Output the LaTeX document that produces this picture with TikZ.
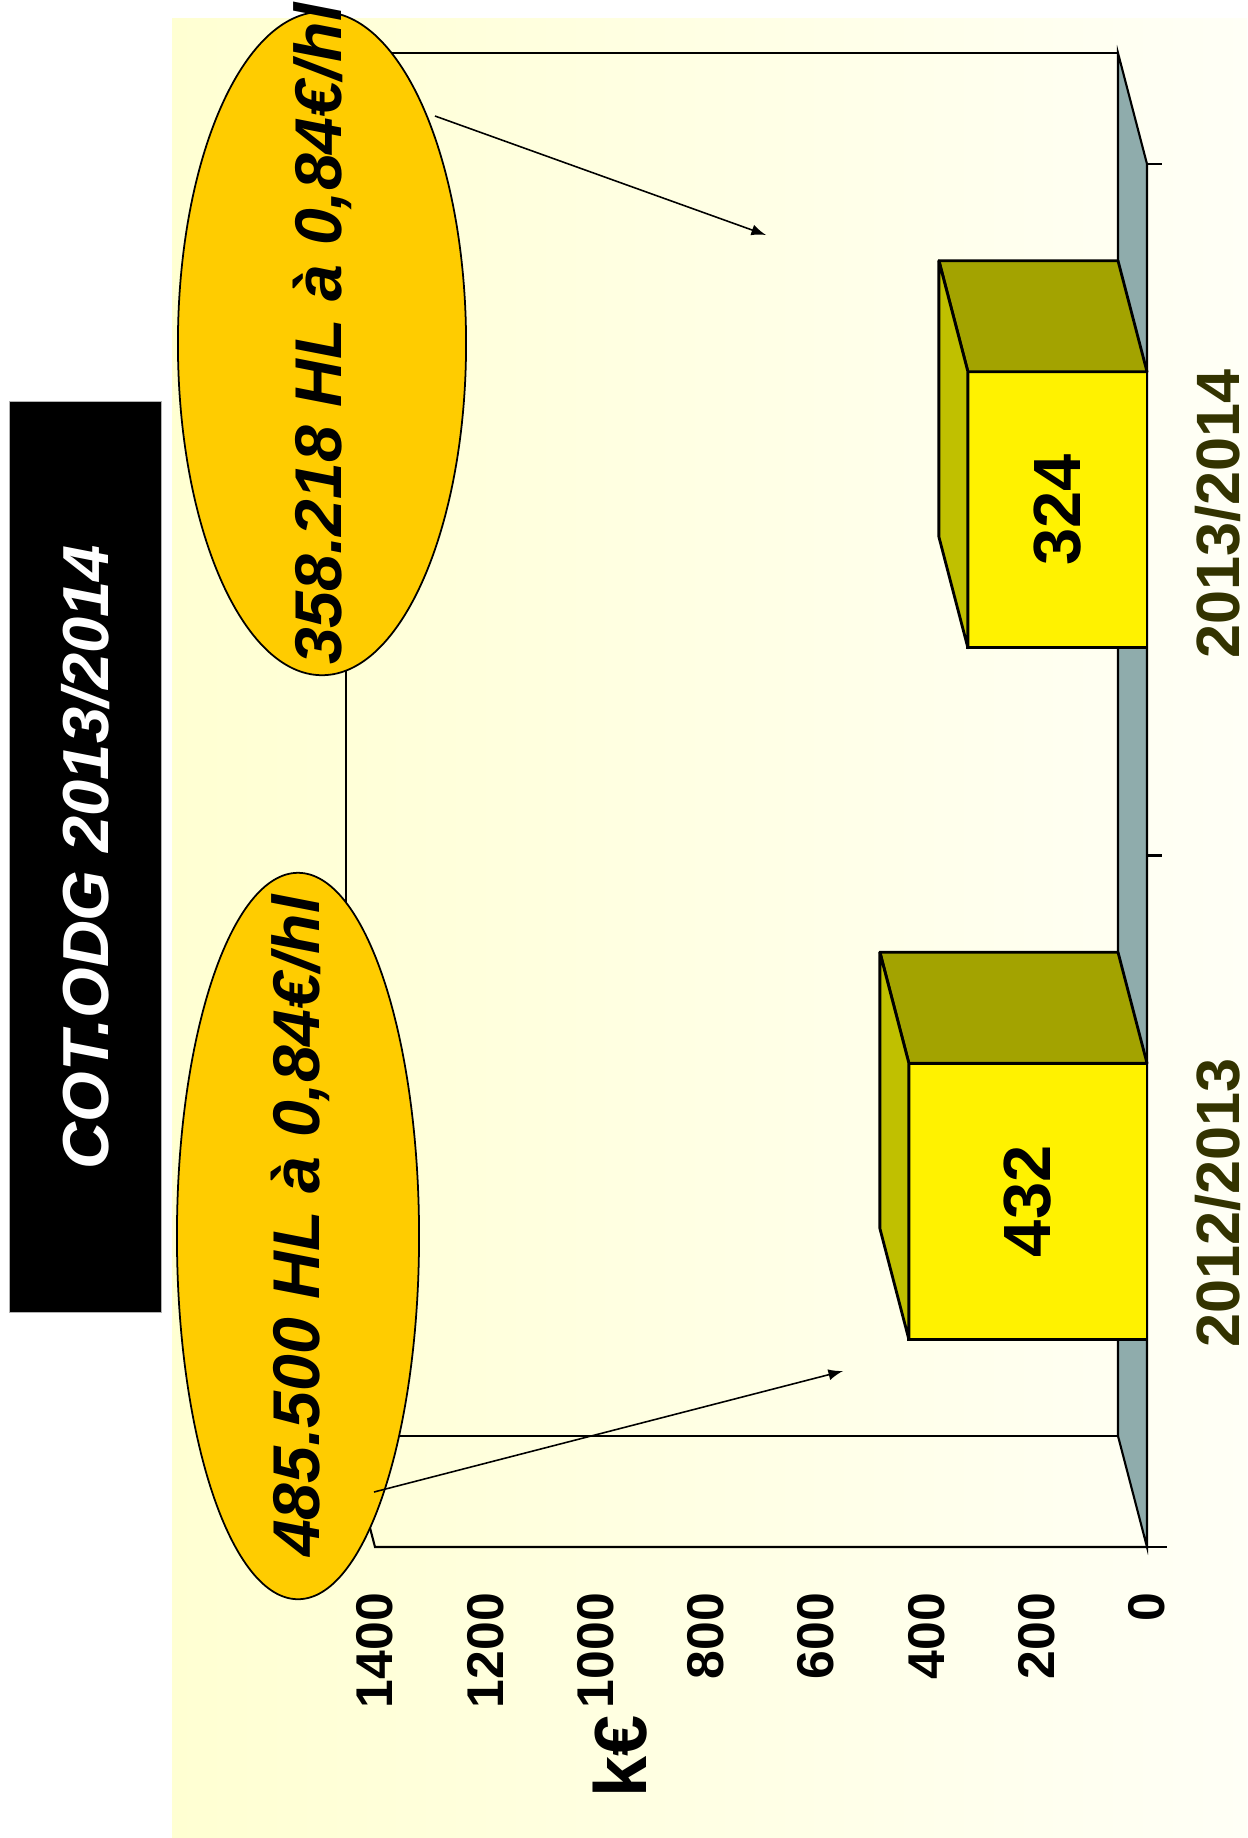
\documentclass[tikz,border=0pt]{standalone}
\usepackage{fontspec}
\setmainfont{Liberation Sans}
\usetikzlibrary{shapes,positioning,arrows,calc}
\definecolor{bgleft}{HTML}{FFFFD2}
\definecolor{bgright}{HTML}{FFFFF6}
\definecolor{gold}{HTML}{FFCC00}
\definecolor{olivetop}{HTML}{A3A300}
\definecolor{oliveend}{HTML}{C0C000}
\definecolor{floorgrey}{HTML}{8FACAC}
\definecolor{yearcol}{HTML}{333300}

\begin{document}
\begin{tikzpicture}[x=0.01cm, y=-0.01cm,
		every node/.style={inner sep=0pt, outer sep=0pt},
		wall/.style={draw=black, line width=0.6pt},
		barface/.style={draw=black, line width=0.8pt, fill=yellow, font=\fontsize{19}{19}\selectfont\bfseries},
		bartop/.style={draw=black, line width=0.8pt, fill=olivetop, line join=round},
		barend/.style={draw=black, line width=0.8pt, fill=oliveend, line join=round},
		callout/.style={draw=black, line width=0.5pt, fill=gold, ellipse},
		callout text/.style={rotate=90, font=\fontsize{18.8}{19}\selectfont\bfseries\itshape},
		tick label/.style={rotate=90, anchor=east, font=\fontsize{14.7}{15}\selectfont\bfseries},
		year/.style={rotate=90, text=yearcol, font=\fontsize{17.4}{18}\selectfont\bfseries},
		>=latex]
	\useasboundingbox (0,0) rectangle (1247,1838);
	\fill[left color=bgleft, right color=bgright] (172,18) rectangle (1247,1838);
	
	% walls and floor
	\coordinate (back0) at (1118,53);
	\coordinate (back1400) at (346,53);
	\coordinate (low1400) at (346,1436);
	\coordinate (low0) at (1118,1436);
	\coordinate (front1400) at (375,1547);
	\coordinate (front0) at (1147,1547);
	\coordinate (fronttop) at (1147,164);
	\coordinate (frontmid) at (1147,855.5);
	\draw[wall] (back0) -- (back1400) -- (low1400) -- (low0);
	\draw[wall] (low1400) -- (front1400) -- (front0);
	\filldraw[wall, fill=floorgrey] (back0) -- (fronttop) -- (front0) -- (low0) -- cycle;
	\draw[wall] (fronttop) -- ++(15,0);
	\draw[wall] (frontmid) -- ++(15,0);
	\draw[wall] (front0) -- ++(20,0);
	
	% bars
	\node[barface, minimum width=2.38cm, minimum height=2.76cm, anchor=east] (bar12) at (1147,1201.25) {\rotatebox{90}{432}};
	\filldraw[bartop] (bar12.north west) -- (bar12.north east) -- ++(-29,-111) -- ++(-238,0) -- cycle;
	\filldraw[barend] (bar12.north west) -- (bar12.south west) -- ++(-29,-111) -- ++(0,-276) -- cycle;
	
	\node[barface, minimum width=1.79cm, minimum height=2.76cm, anchor=east] (bar13) at (1147,509.75) {\rotatebox{90}{324}};
	\filldraw[bartop] (bar13.north west) -- (bar13.north east) -- ++(-29,-111) -- ++(-179,0) -- cycle;
	\filldraw[barend] (bar13.north west) -- (bar13.south west) -- ++(-29,-111) -- ++(0,-276) -- cycle;
	
	% callouts
	\node[callout, minimum width=2.88cm, minimum height=6.63cm] (hl13) at (322,343.5) {};
	\node[callout text] (hl13 text) at (322,334) {358.218 HL à 0,84€/hl};
	\node[callout, minimum width=2.42cm, minimum height=7.26cm] (hl12) at (298,1236) {};
	\node[callout text] (hl12 text) at (300,1226) {485.500 HL à 0,84€/hl};
	
	\coordinate (from13) at (435,116);
	\coordinate (to13) at (766,235);
	\coordinate (from12) at (374,1492);
	\coordinate (to12) at (843,1371);
	\draw[->, line width=0.45pt] (from13) -- (to13);
	\draw[->, line width=0.45pt] (from12) -- (to12);
	
	% title
	\node[fill=black, draw=black!30, line width=0.3pt, minimum width=1.51cm, minimum height=9.10cm, text=white,
		font=\fontsize{18.5}{19}\selectfont\bfseries\itshape] (title) at (85.5,857) {\rotatebox{90}{COT.ODG 2013/2014}};
	
	% value axis
	\node[tick label] (v1400) at (375,1593) {1400};
	\node[tick label] (v1200) at (485.3,1593) {1200};
	\node[tick label] (v1000) at (595.6,1593) {1000};
	\node[tick label] (v800) at (705.9,1593) {800};
	\node[tick label] (v600) at (816.1,1593) {600};
	\node[tick label] (v400) at (926.4,1593) {400};
	\node[tick label] (v200) at (1036.7,1593) {200};
	\node[tick label] (v0) at (1147,1593) {0};
	\node[rotate=90, font=\fontsize{21}{21}\selectfont\bfseries] (unit) at (620,1756) {k€};
	
	% categories
	\node[year] (y12) at (1218,1203) {2012/2013};
	\node[year] (y13) at (1218,514) {2013/2014};
\end{tikzpicture}
\end{document}
